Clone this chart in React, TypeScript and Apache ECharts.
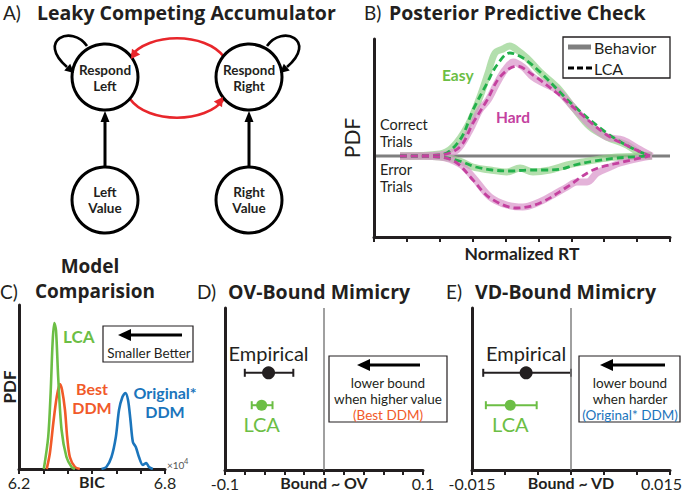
import React, { useEffect, useRef } from 'react';
import * as echarts from 'echarts';

const FONT = 'Lato, "Open Sans", sans-serif';
const TFONT = '"Open Sans", Lato, sans-serif';
const INK = '#231f20';
const GREEN = '#6cbe45';
const ORANGE = '#f15a29';
const BLUE = '#1b75bc';
const MAGENTA = '#c4419f';

// ---------- Panel B: posterior predictive check (x in RT tick units, y in PDF units) ----------
const rtTicks = [0, 1, 2, 3, 4, 5, 6, 7, 8, 9];
const easyBehaviorCorrect = [[0.79,0],[2.01,2],[2.4,9],[2.83,29],[3.22,59],[3.47,83],[3.68,103],[3.92,107],[4.13,110],[4.35,106],[4.65,98],[5.05,84],[5.56,69],[6.05,49],[6.57,29],[7.08,19],[7.69,11],[8.18,1],[8.45,0]];
const hardBehaviorCorrect = [[0.79,0],[2.01,1],[2.52,6],[2.92,26],[3.22,46],[3.47,56],[3.74,73],[3.98,86],[4.23,94],[4.53,89],[4.83,79],[5.14,73],[5.56,66],[6.05,49],[6.57,31],[7.08,19],[7.57,16],[8.0,8],[8.45,0]];
const easyLcaCorrect = [[0.79,0],[2.01,1],[2.61,16],[3.01,46],[3.44,73],[3.74,91],[4.13,103],[4.53,98],[5.05,84],[6.05,51],[7.08,23],[7.78,9],[8.39,0]];
const hardLcaCorrect = [[0.79,0],[2.01,1],[2.61,9],[3.01,33],[3.44,56],[3.83,79],[4.35,90],[4.83,81],[5.56,63],[6.26,43],[7.08,21],[7.78,9],[8.39,0]];
const easyBehaviorError = [[0.79,0],[2.01,-1],[2.61,-5],[3.01,-11],[3.53,-14],[4.04,-16],[4.44,-12],[4.83,-16],[5.35,-14],[5.87,-9],[6.35,-6],[6.87,-3],[7.39,-1],[8.45,0]];
const easyLcaError = [[0.79,0],[2.01,-1],[2.6,-5],[3.1,-11],[3.6,-14],[4.13,-15],[4.7,-14],[5.2,-14],[5.7,-13],[6.1,-9],[6.7,-5],[7.4,-2],[8.39,0]];
const hardBehaviorError = [[0.79,0],[2.01,-1],[2.61,-8],[3.01,-21],[3.53,-41],[4.04,-49],[4.53,-51],[4.96,-47],[5.44,-39],[5.87,-31],[6.17,-26],[6.48,-26],[6.78,-17],[7.18,-11],[7.48,-7],[8.09,-2],[8.45,0]];
const hardLcaError = [[0.79,0],[2.01,-1],[2.52,-7],[3.01,-24],[3.53,-42],[4.35,-52],[5.05,-47],[5.87,-31],[6.66,-14],[7.57,-6],[8.39,0]];
const baselineB = [[0.06,0],[9,0]];

// ---------- Panel C: BIC distributions (x in 10^4) ----------
const bicLCA = [[6.302,0],[6.320,32],[6.330,76],[6.338,126],[6.345,146],[6.352,139],[6.361,92],[6.375,39],[6.395,12],[6.416,2],[6.430,0]];
const bicBestDDM = [[6.314,0],[6.327,16],[6.341,46],[6.355,72],[6.368,85],[6.377,79],[6.389,59],[6.398,32],[6.409,12],[6.430,2],[6.450,0]];
const bicOriginalDDM = [[6.539,0],[6.559,2],[6.580,12],[6.598,32],[6.611,59],[6.625,72],[6.637,76],[6.648,69],[6.658,49],[6.668,27],[6.680,22],[6.693,12],[6.709,4],[6.723,6],[6.734,2],[6.750,0]];

// ---------- Panels D/E: mimicry regressions ----------
const rowNames = ['Empirical', 'LCA'];
const rowY = [0.6, 0.4];
const rowColors = [INK, GREEN];
const rowSizes = [13, 11];
const ovMean = [-0.056, -0.063];
const ovLow = [-0.08, -0.073];
const ovHigh = [-0.031, -0.052];
const vdMean = [-0.0068, -0.0092];
const vdLow = [-0.0133, -0.0129];
const vdHigh = [0.0, -0.0052];

function txt(text: string, x: number, y: number, size: number, o: any = {}) {
  return {
    type: 'text', x, y, rotation: o.rot || 0, z: 110,
    style: {
      text, fontSize: size, fontFamily: o.f || FONT, fontWeight: o.w || 'normal',
      fill: o.c || INK, align: o.a || 'center', verticalAlign: 'middle',
      textAlign: o.a || 'center', textVerticalAlign: 'middle',
      lineHeight: o.lh || Math.ceil(size * 1.2),
      rich: o.rich,
    },
  };
}

function head(tx: number, ty: number, ang: number, len: number, half: number, color: string) {
  const bx = tx - len * Math.cos(ang), by = ty - len * Math.sin(ang);
  const px = -Math.sin(ang) * half, py = Math.cos(ang) * half;
  return { type: 'polygon', z: 105, shape: { points: [[tx, ty], [bx + px, by + py], [bx - px, by - py]] }, style: { fill: color } };
}

function line(x1: number, y1: number, x2: number, y2: number, color: string, w: number, z = 104) {
  return { type: 'line', z, shape: { x1, y1, x2, y2 }, style: { stroke: color, lineWidth: w } };
}

function circle(cx: number, cy: number) {
  return { type: 'circle', z: 100, shape: { cx, cy, r: 33 }, style: { fill: '#fff', stroke: '#000', lineWidth: 3 } };
}

function boxArrow(x1: number, x2: number, y: number) {
  return [line(x2, y, x1 + 10, y, '#000', 3), head(x1, y, Math.PI, 13, 6, '#000')];
}

function axisCommon(gridIndex: number) {
  return {
    gridIndex,
    axisLine: { show: true, onZero: false, lineStyle: { color: INK, width: 3 } },
    splitLine: { show: false },
    nameMoveOverlap: false,
  };
}

function errorBars(xi: number, lows: number[], highs: number[]) {
  return {
    type: 'custom', xAxisIndex: xi, yAxisIndex: xi, z: 3,
    data: rowNames.map((n, i) => [lows[i], highs[i], rowY[i], i]),
    encode: { x: [0, 1], y: 2 },
    renderItem: (params: any, api: any) => {
      const a = api.coord([api.value(0), api.value(2)]);
      const b = api.coord([api.value(1), api.value(2)]);
      const c = rowColors[api.value(3)];
      const st = { stroke: c, lineWidth: 2 };
      return {
        type: 'group',
        children: [
          { type: 'line', shape: { x1: a[0], y1: a[1], x2: b[0], y2: b[1] }, style: st },
          { type: 'line', shape: { x1: a[0], y1: a[1] - 4, x2: a[0], y2: a[1] + 4 }, style: st },
          { type: 'line', shape: { x1: b[0], y1: b[1] - 4, x2: b[0], y2: b[1] + 4 }, style: st },
        ],
      };
    },
  };
}

function points(xi: number, means: number[]) {
  return {
    type: 'scatter', xAxisIndex: xi, yAxisIndex: xi, z: 5,
    data: rowNames.map((n, i) => ({
      value: [means[i], rowY[i]], name: n, symbolSize: rowSizes[i],
      itemStyle: { color: rowColors[i], opacity: 1 },
      label: {
        show: true, position: i === 0 ? 'top' : 'bottom', distance: 3, formatter: '{b}',
        color: rowColors[i], fontSize: 20, fontFamily: FONT,
      },
    })),
    markLine: {
      silent: true, symbol: ['none', 'none'], label: { show: false },
      lineStyle: { color: '#808080', width: 1.5, type: 'solid' },
      data: [{ xAxis: 0 }],
    },
  };
}

function ppLine(data: number[][], color: string, dashed: boolean) {
  return {
    type: 'line', xAxisIndex: 0, yAxisIndex: 0, data, smooth: 0.35, symbol: 'none', z: dashed ? 4 : 2,
    lineStyle: dashed ? { color, width: 2.8, type: [7, 4] } : { color, width: 7, opacity: 0.7 },
  };
}

function bicLine(data: number[][], color: string) {
  return {
    type: 'line', xAxisIndex: 1, yAxisIndex: 1, data, smooth: 0.3, symbol: 'none',
    lineStyle: { color, width: 2.6 },
  };
}

const endLabel = (lo: number, hi: number, loT: string, hiT: string) => (v: number) =>
  Math.abs(v - lo) < 1e-7 ? loT : Math.abs(v - hi) < 1e-7 ? hiT : '';

export default function App() {
  const ref = useRef<HTMLDivElement>(null);
  useEffect(() => {
    if (!ref.current) return;
    const chart = echarts.init(ref.current, undefined, { renderer: 'svg' });
    const nameStyle = { fontFamily: FONT, fontWeight: 'bold', fontSize: 16, color: INK };
    const tickLabel = { show: true, fontFamily: FONT, fontSize: 16, color: INK, margin: 5, showMinLabel: true, showMaxLabel: true };
    const ticks = { show: true, length: 5, lineStyle: { color: INK, width: 2 } };
    const T = { a: 'left', w: 'bold', f: TFONT };
    const boxSize = 13.5;
    const richLine = (c: string) => ({ fill: c, fontSize: boxSize, fontFamily: FONT, lineHeight: 16.2 });

    const graphic: any[] = [
      // titles
      txt('A)', 3, 12, 19, { a: 'left' }),
      txt('Leaky Competing Accumulator', 37, 12, 19.5, T),
      txt('B)', 364, 12, 19, { a: 'left' }),
      txt('Posterior Predictive Check', 389, 12, 19.5, T),
      txt('Model', 90, 266, 19, { w: 'bold', f: TFONT }),
      txt('C)', 0, 291, 19, { a: 'left' }),
      txt('Comparision', 35, 291, 19, T),
      txt('D)', 197, 291, 19, { a: 'left' }),
      txt('OV-Bound Mimicry', 228, 291, 19.5, T),
      txt('E)', 446, 291, 19, { a: 'left' }),
      txt('VD-Bound Mimicry', 475, 291, 19.5, T),

      // Panel A diagram
      { type: 'bezierCurve', z: 98, shape: { x1: 130, y1: 57, x2: 224, y2: 57, cpx1: 148, cpy1: 32, cpx2: 206, cpy2: 32 }, style: { stroke: '#e8262b', lineWidth: 2.6, fill: 'none' } },
      { type: 'bezierCurve', z: 98, shape: { x1: 130, y1: 99, x2: 224, y2: 99, cpx1: 148, cpy1: 124, cpx2: 206, cpy2: 124 }, style: { stroke: '#e8262b', lineWidth: 2.6, fill: 'none' } },
      { type: 'bezierCurve', z: 98, shape: { x1: 87, y1: 46, x2: 67, y2: 67, cpx1: 72, cpy1: 24, cpx2: 36, cpy2: 40 }, style: { stroke: '#000', lineWidth: 2.6, fill: 'none' } },
      { type: 'bezierCurve', z: 98, shape: { x1: 267, y1: 46, x2: 287, y2: 67, cpx1: 282, cpy1: 24, cpx2: 318, cpy2: 40 }, style: { stroke: '#000', lineWidth: 2.6, fill: 'none' } },
      circle(105, 77), circle(249, 77), circle(105, 200), circle(249, 200),
      head(131, 59, 2.17, 9, 5, '#e8262b'),
      head(223, 97, -0.97, 9, 5, '#e8262b'),
      head(74, 73, 0.72, 9, 4.5, '#000'),
      head(280, 73, Math.PI - 0.72, 9, 4.5, '#000'),
      line(105, 167, 105, 120, '#000', 3), head(105, 111, -Math.PI / 2, 11, 4.5, '#000'),
      line(249, 167, 249, 120, '#000', 3), head(249, 111, -Math.PI / 2, 11, 4.5, '#000'),
      txt('Respond\nLeft', 105, 78, 13.5, { w: 'bold', lh: 16.5 }),
      txt('Respond\nRight', 249, 78, 13.5, { w: 'bold', lh: 16.5 }),
      txt('Left\nValue', 105, 200, 13.5, { w: 'bold', lh: 16.5 }),
      txt('Right\nValue', 249, 200, 13.5, { w: 'bold', lh: 16.5 }),

      // Panel B annotations + legend
      txt('Correct\nTrials', 380, 133, 14.5, { a: 'left', lh: 17.5 }),
      txt('Error\nTrials', 380, 178, 14.5, { a: 'left', lh: 17.5 }),
      txt('Easy', 442, 75, 15.5, { a: 'left', w: 'bold', c: GREEN }),
      txt('Hard', 496, 117, 15.5, { a: 'left', w: 'bold', c: MAGENTA }),
      { type: 'rect', z: 100, shape: { x: 563, y: 37, width: 107, height: 41 }, style: { fill: '#fff', stroke: INK, lineWidth: 1.3 } },
      line(568, 47, 591, 47, '#7f7f7f', 5),
      { type: 'line', z: 104, shape: { x1: 568, y1: 68, x2: 592, y2: 68 }, style: { stroke: '#000', lineWidth: 3, lineDash: [6, 3] } },
      txt('Behavior', 594, 47, 16, { a: 'left' }),
      txt('LCA', 594, 68, 16, { a: 'left' }),

      // Panel C annotations
      txt('LCA', 63, 336, 17, { a: 'left', w: 'bold', c: GREEN }),
      txt('Best\nDDM', 92, 398, 16, { w: 'bold', c: ORANGE, lh: 19.5 }),
      txt('Original*\nDDM', 165, 402, 16, { w: 'bold', c: BLUE, lh: 19.5 }),
      { type: 'rect', z: 100, shape: { x: 103, y: 326, width: 90, height: 36 }, style: { fill: '#fff', stroke: INK, lineWidth: 1.2 } },
      ...boxArrow(118, 182, 335),
      txt('Smaller Better', 149, 353, 13.5),
      txt('×10', 167, 465, 10, { a: 'left', c: '#555' }),
      txt('4', 184, 461, 7.5, { a: 'left', c: '#555' }),

      // Panel D box
      { type: 'rect', z: 100, shape: { x: 329, y: 356, width: 118, height: 66 }, style: { fill: '#fff', stroke: INK, lineWidth: 1.2 } },
      ...boxArrow(357, 420, 365),
      txt('{k|lower bound}\n{k|when higher value}\n{o|(Best DDM)}', 388, 399, boxSize,
        { lh: 16.2, rich: { k: richLine(INK), o: richLine(ORANGE) } }),

      // Panel E box
      { type: 'rect', z: 100, shape: { x: 579, y: 356, width: 101, height: 66 }, style: { fill: '#fff', stroke: INK, lineWidth: 1.2 } },
      ...boxArrow(600, 665, 365),
      txt('{k|lower bound}\n{k|when harder}\n{o|(Original* DDM)}', 630, 399, boxSize,
        { lh: 16.2, rich: { k: richLine(INK), o: richLine(BLUE) } }),
    ];

    const gridBase = { outerBoundsMode: 'none', containLabel: false };
    const option: any = {
      animation: false,
      backgroundColor: '#fff',
      grid: [
        { ...gridBase, left: 374, top: 39, width: 296, height: 198 },
        { ...gridBase, left: 19, top: 305, width: 146, height: 164 },
        { ...gridBase, left: 225, top: 308, width: 198, height: 162 },
        { ...gridBase, left: 472, top: 308, width: 198, height: 162 },
      ],
      xAxis: [
        { ...axisCommon(0), type: 'value', min: rtTicks[0], max: rtTicks[rtTicks.length - 1], interval: 1,
          axisTick: ticks, axisLabel: { show: false },
          name: 'Normalized RT', nameLocation: 'middle', nameGap: 7, nameTextStyle: { ...nameStyle, fontSize: 17.5 } },
        { ...axisCommon(1), type: 'value', min: 6.2, max: 6.8, interval: 0.1,
          axisTick: ticks, axisLabel: { ...tickLabel, formatter: endLabel(6.2, 6.8, '6.2', '6.8') },
          name: 'BIC', nameLocation: 'middle', nameGap: 4, nameTextStyle: nameStyle },
        { ...axisCommon(2), type: 'value', min: -0.1, max: 0.1, interval: 0.02,
          axisTick: ticks, axisLabel: { ...tickLabel, formatter: endLabel(-0.1, 0.1, '-0.1', '0.1') },
          name: 'Bound ~ OV', nameLocation: 'middle', nameGap: 4, nameTextStyle: nameStyle },
        { ...axisCommon(3), type: 'value', min: -0.015, max: 0.015, interval: 0.005,
          axisTick: ticks,
          axisLabel: {
            ...tickLabel, formatter: endLabel(-0.015, 0.015, '-0.015', '{r|0.015}'),
            rich: { r: { fontFamily: FONT, fontSize: 16, color: INK, padding: [0, 17, 0, 0] } },
          },
          name: 'Bound ~ VD', nameLocation: 'middle', nameGap: 4, nameTextStyle: nameStyle },
      ],
      yAxis: [
        { ...axisCommon(0), type: 'value', min: -81, max: 117, axisTick: { show: false }, axisLabel: { show: false },
          name: 'PDF', nameLocation: 'middle', nameRotate: 90, nameGap: 12,
          nameTextStyle: { fontFamily: FONT, fontSize: 21, color: INK } },
        { ...axisCommon(1), type: 'value', min: 0, max: 164, axisTick: { show: false }, axisLabel: { show: false },
          name: 'PDF', nameLocation: 'middle', nameRotate: 90, nameGap: 1, nameTextStyle: { ...nameStyle, fontSize: 17 } },
        { ...axisCommon(2), type: 'value', min: 0, max: 1, axisTick: { show: false }, axisLabel: { show: false } },
        { ...axisCommon(3), type: 'value', min: 0, max: 1, axisTick: { show: false }, axisLabel: { show: false } },
      ],
      series: [
        { type: 'line', xAxisIndex: 0, yAxisIndex: 0, data: baselineB, symbol: 'none', z: 1,
          lineStyle: { color: '#7f7f7f', width: 3 } },
        ppLine(easyBehaviorCorrect, '#93d18a', false),
        ppLine(hardBehaviorCorrect, '#d993c9', false),
        ppLine(easyBehaviorError, '#93d18a', false),
        ppLine(hardBehaviorError, '#d993c9', false),
        ppLine(easyLcaCorrect, '#22b04b', true),
        ppLine(hardLcaCorrect, MAGENTA, true),
        ppLine(easyLcaError, '#22b04b', true),
        ppLine(hardLcaError, MAGENTA, true),
        bicLine(bicOriginalDDM, BLUE),
        bicLine(bicBestDDM, ORANGE),
        bicLine(bicLCA, GREEN),
        errorBars(2, ovLow, ovHigh),
        points(2, ovMean),
        errorBars(3, vdLow, vdHigh),
        points(3, vdMean),
      ],
      graphic,
    };
    chart.setOption(option);
    return () => chart.dispose();
  }, []);
  return <div ref={ref} style={{ position: 'fixed', left: 0, top: 0, width: 685, height: 492, background: '#fff' }} />;
}
